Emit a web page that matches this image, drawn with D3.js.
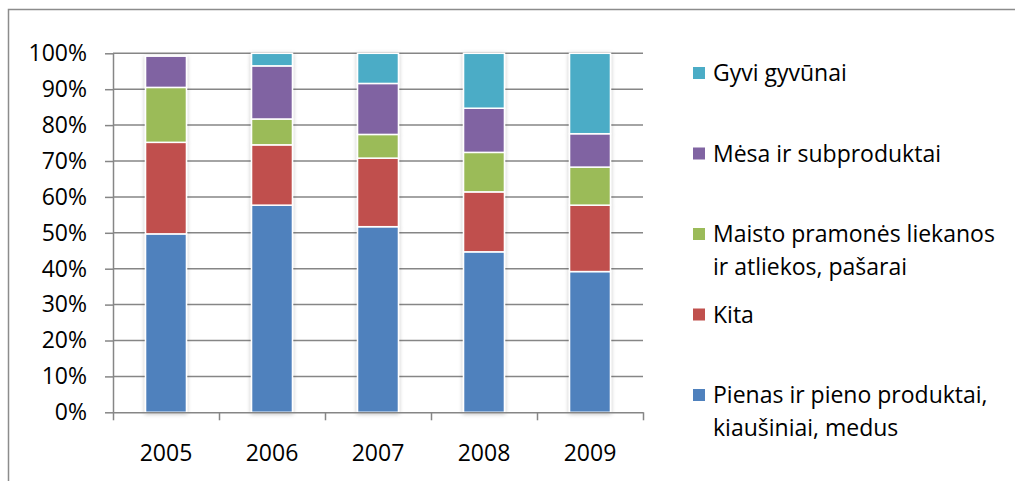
<!DOCTYPE html>
<html lang="lt">
<head>
  <meta charset="UTF-8" />
  <title>Stacked shares 2005–2009</title>
  <script src="https://d3js.org/d3.v7.min.js"></script>
  <style>
    body { margin: 0; background: #fff; }
    text { font-family: "Open Sans", sans-serif; fill: #000; }
    .axis path, .axis line { stroke: #868686; stroke-width: 1.5px; }
    .grid line { stroke: #868686; stroke-width: 1.5px; }
  </style>
</head>
<body>
<svg width="1015" height="481"></svg>
<script>
  // data (percent of total)
  const years = ["2005", "2006", "2007", "2008", "2009"];
  const pienas = [49.7, 57.7, 51.7, 44.7, 39.2];
  const kita = [25.5, 16.8, 19.1, 16.7, 18.5];
  const maisto = [15.3, 7.2, 6.6, 11.0, 10.6];
  const mesa = [8.7, 14.8, 14.2, 12.3, 9.3];
  const gyvi = [0.0, 3.5, 8.4, 15.3, 22.4];
  const yTicks = [0, 10, 20, 30, 40, 50, 60, 70, 80, 90, 100];

  const series = [
    { name: ["Pienas ir pieno produktai,", "kiaušiniai, medus"], values: pienas, color: "#4F81BD" },
    { name: ["Kita"], values: kita, color: "#C0504D" },
    { name: ["Maisto pramonės liekanos", "ir atliekos, pašarai"], values: maisto, color: "#9BBB59" },
    { name: ["Mėsa ir subproduktai"], values: mesa, color: "#8064A2" },
    { name: ["Gyvi gyvūnai"], values: gyvi, color: "#4BACC6" }
  ];

  const fontSize = "23px";
  const svg = d3.select("svg");

  // outer frame
  svg.append("rect")
    .attr("x", 8.5).attr("y", 9.5)
    .attr("width", 1015).attr("height", 481)
    .attr("fill", "none").attr("stroke", "#8c8c8c").attr("stroke-width", 1.5);

  const defs = svg.append("defs");
  const f = defs.append("filter").attr("id", "shadow")
    .attr("x", "-20%").attr("y", "-5%").attr("width", "140%").attr("height", "110%");
  f.append("feDropShadow").attr("dx", 0).attr("dy", 1).attr("stdDeviation", 2)
    .attr("flood-color", "#000").attr("flood-opacity", 0.25);

  const plotL = 113, plotR = 643, plotT = 53.3, plotB = 412.3;

  const x = d3.scaleBand().domain(years).range([plotL, plotR])
    .paddingInner(0.614).paddingOuter(0.307);
  const xEdge = d3.scaleLinear().domain([0, years.length]).range([plotL, plotR]);
  const y = d3.scaleLinear().domain([0, 100]).range([plotB, plotT]);

  // gridlines
  svg.append("g").attr("class", "grid")
    .selectAll("line").data(yTicks.slice(1)).join("line")
    .attr("x1", plotL).attr("x2", plotR)
    .attr("y1", d => y(d)).attr("y2", d => y(d));

  // stacked bars
  const rows = years.map((yr, i) => {
    const r = { year: yr };
    series.forEach((s, k) => r["s" + k] = s.values[i]);
    return r;
  });
  const stack = d3.stack().keys(series.map((s, k) => "s" + k))(rows);

  const barG = svg.append("g").attr("filter", "url(#shadow)");
  barG.selectAll("g").data(stack).join("g")
    .attr("fill", (d, k) => series[k].color)
    .selectAll("rect").data(d => d.filter(p => p[1] - p[0] > 0)).join("rect")
    .attr("x", d => x(d.data.year))
    .attr("width", x.bandwidth())
    .attr("y", d => y(d[1]))
    .attr("height", d => y(d[0]) - y(d[1]))
    .attr("stroke", "#fff").attr("stroke-width", 1.5);

  // y axis
  svg.append("g").attr("class", "axis")
    .attr("transform", `translate(${plotL},0)`)
    .call(d3.axisLeft(y).tickValues(yTicks).tickFormat(d => d + "%")
      .tickSize(8).tickSizeOuter(0).tickPadding(18))
    .call(g => g.selectAll("text").style("font-size", fontSize));

  // x axis: tick marks at the category edges
  svg.append("g").attr("class", "axis")
    .attr("transform", `translate(0,${plotB})`)
    .call(d3.axisBottom(xEdge).ticks(years.length).tickFormat("")
      .tickSize(8).tickSizeOuter(0));

  // x labels
  svg.append("g")
    .attr("transform", `translate(0,${plotB})`)
    .call(d3.axisBottom(x).tickSize(0).tickPadding(32))
    .call(g => g.select(".domain").remove())
    .call(g => g.selectAll("text").style("font-size", fontSize));

  // legend, top to bottom in reverse stack order
  const legend = svg.append("g");
  const legendY = d3.scalePoint()
    .domain(series.map((s, k) => k).reverse())
    .range([73, 395]);
  const item = legend.selectAll("g").data(series).join("g")
    .attr("transform", (d, k) => `translate(693,${legendY(k)})`);
  item.append("rect")
    .attr("x", 0).attr("y", -6).attr("width", 12).attr("height", 12)
    .attr("fill", d => d.color);
  item.append("text")
    .attr("x", 20).attr("y", 8)
    .style("font-size", fontSize)
    .selectAll("tspan").data(d => d.name).join("tspan")
    .attr("x", 20).attr("dy", (d, i) => i ? 33 : 0)
    .text(d => d);
</script>
</body>
</html>
